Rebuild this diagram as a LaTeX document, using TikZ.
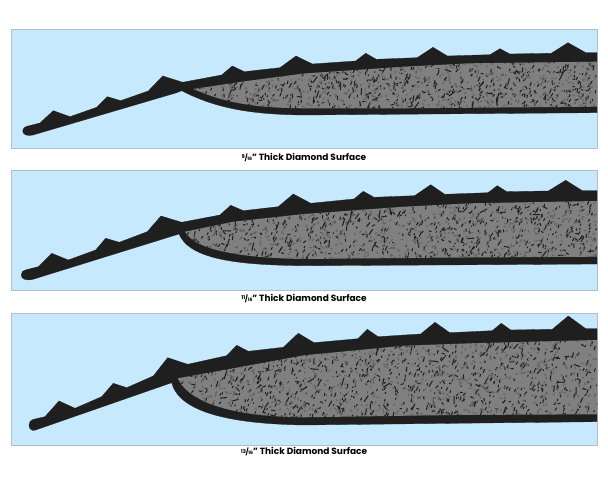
\documentclass[tikz,border=0pt]{standalone}
\usepackage{fontspec}
\setmainfont{Poppins}
\definecolor{panefill}{HTML}{C7E9FD}
\definecolor{paneline}{HTML}{AFC0CC}
\definecolor{shellcol}{HTML}{1F1F1F}
\definecolor{corecol}{HTML}{808080}
\tikzset{
	pane/.style={fill=panefill,draw=paneline,line width=1pt},
	shell/.style={fill=shellcol,draw=shellcol,line width=.3pt,line join=round},
	core/.style={fill=corecol},
	fleck/.style={draw=shellcol,line width=1.05pt,line cap=round},
	speck/.style={draw=black!62,line width=1.1pt,line cap=round},
	caption/.style={font=\bfseries\fontsize{9}{10}\selectfont,text=black,inner sep=0pt}
}
\newcommand{\frc}[2]{{\fontsize{5.2}{5}\selectfont\raisebox{.32em}{#1}}{\fontsize{7}{7}\selectfont\kern-.05em/\kern-.05em}{\fontsize{4.6}{5}\selectfont #2}}
% random flecks: x range, y range, how many
\newcommand{\flecks}[5]{
	\foreach \i in {1,...,#5}{
		\pgfmathsetmacro{\fx}{#1+rnd*(#2-#1)}
		\pgfmathsetmacro{\fy}{#3+rnd*(#4-#3)}
		\pgfmathsetmacro{\fa}{rnd<.6 ? -50-40*rnd : 360*rnd}
		\pgfmathsetmacro{\fl}{rnd<.85 ? .6+2.6*rnd : 3+5*rnd}
		\draw[fleck] (\fx,\fy) -- ++(\fa:\fl);
	}
	\foreach \i in {1,...,#5}{
		\pgfmathsetmacro{\fx}{#1+rnd*(#2-#1)}
		\pgfmathsetmacro{\fy}{#3+rnd*(#4-#3)}
		\pgfmathsetmacro{\fa}{360*rnd}
		\draw[speck] (\fx,\fy) -- ++(\fa:1.8);
	}
}
\begin{document}
\begin{tikzpicture}[x=1pt,y=-1pt]
	\useasboundingbox (0,0) rectangle (608,489);
	\pgfmathsetseed{4711}
	% 9/16
	\draw[pane] (11,30) rectangle (597,149);
	\draw[shell] (27,126.3) -- (40,123) -- (53.3,110.7) -- (70,116.7) -- (96.7,107.3) -- (107.3,96.7) -- (120.7,100.7) -- (148.3,91) -- (162.7,76) -- (182.7,82.3) -- (221.7,75) -- (232.3,66) -- (244.3,71.7) -- (280,67.7) -- (296,56) -- (312.3,64) -- (355.7,61) -- (365.7,53.3) -- (376.3,59.3) -- (417.3,57.7) -- (433,47.3) -- (447.3,56) -- (490,54.7) -- (500,48.7) -- (509.7,54) -- (551.3,53.3) -- (568,42.7) -- (585.7,52.7) -- (597,52.7) -- (597,112.7) -- (304,115) .. controls (250,114.5) and (215,108) .. (181.7,90.7) -- (176.7,92.7) -- (33,135) .. controls (27,136.5) and (22.5,134.5) .. (22.7,130.5) .. controls (23,127.8) and (25,126.8) .. (27,126.3) -- cycle;
	\begin{scope}
		\path[clip] (193.3,89) -- (246.7,81) -- (304,73.5) -- (404,66.7) -- (470.7,63.3) -- (597,61.7) -- (597,106.7) -- (404,108.3) -- (304,108.3) .. controls (255,108) and (225,103) .. cycle;
		\fill[core] (190,60) rectangle (597,110);
		\flecks{190}{597}{60}{110}{620}
	\end{scope}
	\node[caption] (capa) at (304,157.3) {\frc{9}{16}" Thick Diamond Surface};
	% 11/16
	\draw[pane] (11,170.7) rectangle (597,290.7);
	\draw[shell] (26,269.8) -- (38.3,266.7) -- (51.7,253.3) -- (68.3,260) -- (95.7,250) -- (105.7,238.3) -- (119.3,242.3) -- (147.3,231.7) -- (161,216) -- (181.7,222.3) -- (220,215) -- (230.7,205.3) -- (243.3,210.7) -- (278.3,206.7) -- (293.3,194) -- (310.7,203.3) -- (354,199) -- (363.3,191.3) -- (374,197.3) -- (414.7,195.7) -- (430.7,184.7) -- (444.7,194.3) -- (488,192.7) -- (497.3,185.7) -- (506.7,191.7) -- (548.3,191) -- (565.7,180.3) -- (582.3,190.7) -- (597,190.7) -- (597,264) -- (437.3,265) -- (304,265.7) .. controls (240,265) and (190,260) .. (179,234) -- (33,279.3) .. controls (26,281) and (21.2,279) .. (21.2,275) .. controls (21.2,272) and (23,270.5) .. (26,269.8) -- cycle;
	\begin{scope}
		\path[clip] (185,231.7) -- (233.3,221.7) -- (304,214) -- (404,206.7) -- (470.7,203.3) -- (597,201) -- (597,256.7) -- (437,257.7) -- (304,259) .. controls (240,258) and (195,250) .. cycle;
		\fill[core] (180,200) rectangle (597,260);
		\flecks{180}{597}{198}{260}{750}
	\end{scope}
	\node[caption] (capb) at (304,298.4) {\frc{11}{16}" Thick Diamond Surface};
	% 13/16
	\draw[pane] (11,313) rectangle (597,445);
	\draw[shell] (33,419.5) -- (45,416.7) -- (59,401) -- (75,408.3) -- (101.7,396.7) -- (113.3,383.3) -- (126.7,387.7) -- (153.3,376) -- (167.7,357.7) -- (187.7,364.3) -- (226.7,355.7) -- (236.7,345.3) -- (248.3,351.3) -- (283.3,347.3) -- (298.3,333.3) -- (314,342.7) -- (358,338.7) -- (367.3,329.3) -- (378,336.7) -- (420.7,334) -- (435,322.3) -- (449.7,332.7) -- (492.3,330.7) -- (501.3,323.3) -- (510.7,330) -- (552.3,329.3) -- (568.3,316) -- (585.7,328.7) -- (597,328.7) -- (597,421.7) -- (454,423.3) -- (304,425) .. controls (240,424) and (180,415) .. (171.7,382.7) -- (35,430.2) .. controls (31.5,431.2) and (29,428.5) .. (29,425) .. controls (29,422) and (30.5,420.2) .. (33,419.5) -- cycle;
	\begin{scope}
		\path[clip] (177.7,378.3) -- (233.3,368.3) -- (304,355.3) -- (404,345.7) -- (470.7,343.3) -- (597,340) -- (597,414.3) -- (454,415) -- (304,417.3) .. controls (240,417) and (190,405) .. cycle;
		\fill[core] (170,338) rectangle (597,420);
		\flecks{170}{597}{338}{420}{950}
	\end{scope}
	\node[caption] (capc) at (304,452) {\frc{13}{16}" Thick Diamond Surface};
\end{tikzpicture}
\end{document}
